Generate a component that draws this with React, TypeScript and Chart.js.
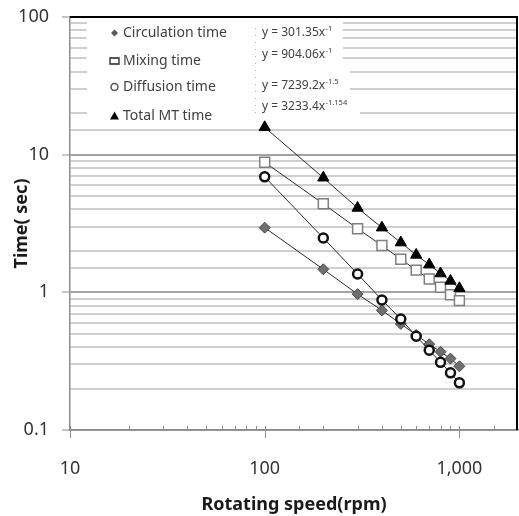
import React, { useEffect, useRef } from 'react';
import { Chart, registerables } from 'chart.js';

Chart.register(...registerables);

// ---- data ----
const rpm = [100, 200, 300, 400, 500, 600, 700, 800, 900, 1000];
const circulationTime = [2.95, 1.47, 0.97, 0.74, 0.59, 0.49, 0.42, 0.37, 0.33, 0.29];
const mixingTime = [8.8, 4.4, 2.9, 2.19, 1.74, 1.45, 1.25, 1.09, 0.96, 0.87];
const diffusionTime = [6.9, 2.48, 1.36, 0.88, 0.64, 0.48, 0.38, 0.31, 0.26, 0.22];
const totalTime = [15.8, 6.8, 4.1, 2.95, 2.3, 1.87, 1.59, 1.37, 1.21, 1.07];

const seriesNames = ['Circulation time', 'Mixing time', 'Diffusion time', 'Total MT time'];
const equationBase = ['y = 301.35x', 'y = 904.06x', 'y = 7239.2x', 'y = 3233.4x'];
const equationExp = ['-1', '-1', '-1.5', '-1.154'];

const xTickValues = [10, 100, 1000];
const xTickLabels = ['10', '100', '1,000'];
const yTickValues = [0.1, 1, 10, 100];
const yTickLabels = ['0.1', '1', '10', '100'];

const xTitle = 'Rotating speed(rpm)';
const yTitle = 'Time( sec)';

const FONT = "'Noto Sans', 'DejaVu Sans', sans-serif";

function findLabel(v: number, values: number[], labels: string[]): string {
  for (let i = 0; i < values.length; i++) {
    if (Math.abs(Math.log10(v) - Math.log10(values[i])) < 1e-6) return labels[i];
  }
  return '';
}
const isMajorY = (v: number) => findLabel(v, yTickValues, yTickLabels) !== '';
const isMajorX = (v: number) => findLabel(v, xTickValues, xTickLabels) !== '';

const toPoints = (ys: number[]) => rpm.map((x, i) => ({ x, y: ys[i] }));

const decorPlugin = {
  id: 'decor',
  beforeDatasetsDraw(chart: any) {
    const ctx = chart.ctx;
    ctx.save();
    // white legend / equation boxes that hide gridlines
    ctx.fillStyle = '#ffffff';
    ctx.fillRect(87, 18, 343 - 87, 65 - 18);
    ctx.fillRect(87, 65, 350 - 87, 100 - 65);
    ctx.fillRect(87, 100, 360 - 87, 124 - 100);

    // dotted text-box edge
    ctx.strokeStyle = '#b0b0b0';
    ctx.lineWidth = 1;
    ctx.setLineDash([1, 6]);
    ctx.beginPath();
    ctx.moveTo(255.5, 28);
    ctx.lineTo(255.5, 114);
    ctx.stroke();
    ctx.setLineDash([]);

    // legend
    const rows = [33, 61, 87, 116];
    const mx = 114.5;
    ctx.font = `14px ${FONT}`;
    ctx.textBaseline = 'middle';
    ctx.textAlign = 'left';
    seriesNames.forEach((name, i) => {
      ctx.fillStyle = '#404040';
      ctx.fillText(name, 123, rows[i]);
    });
    // diamond
    ctx.fillStyle = '#5a5a5a';
    ctx.beginPath();
    ctx.moveTo(mx, rows[0] - 3.5);
    ctx.lineTo(mx + 3.5, rows[0]);
    ctx.lineTo(mx, rows[0] + 3.5);
    ctx.lineTo(mx - 3.5, rows[0]);
    ctx.closePath();
    ctx.fill();
    // square
    ctx.strokeStyle = '#222';
    ctx.lineWidth = 1.3;
    ctx.fillStyle = '#fff';
    ctx.beginPath();
    ctx.rect(mx - 4.5, rows[1] - 3, 9, 6);
    ctx.fill();
    ctx.stroke();
    // circle
    ctx.strokeStyle = '#555';
    ctx.lineWidth = 1.5;
    ctx.beginPath();
    ctx.arc(mx, rows[2], 3.5, 0, Math.PI * 2);
    ctx.stroke();
    // triangle
    ctx.fillStyle = '#000';
    ctx.beginPath();
    ctx.moveTo(mx, rows[3] - 4.5);
    ctx.lineTo(mx + 4.5, rows[3] + 3.5);
    ctx.lineTo(mx - 4.5, rows[3] + 3.5);
    ctx.closePath();
    ctx.fill();

    // equations
    const eqRows = [33, 55, 86, 107];
    equationBase.forEach((t, i) => {
      ctx.font = `12px ${FONT}`;
      ctx.fillStyle = '#404040';
      ctx.textBaseline = 'middle';
      ctx.fillText(t, 262, eqRows[i]);
      const w = ctx.measureText(t).width;
      ctx.font = `7.5px ${FONT}`;
      ctx.fillText(equationExp[i], 262 + w + 0.5, eqRows[i] - 4.5);
    });
    ctx.restore();
  },
  afterDraw(chart: any) {
    const ctx = chart.ctx;
    const area = chart.chartArea;
    const xs = chart.scales.x;
    const ys = chart.scales.y;
    ctx.save();
    ctx.strokeStyle = '#8c8c8c';
    ctx.lineWidth = 1;
    // x-axis tick marks
    xs.ticks.forEach((t: any) => {
      const px = Math.round(xs.getPixelForValue(t.value)) + 0.5;
      if (px > area.right - 1) return;
      ctx.beginPath();
      if (isMajorX(t.value)) {
        ctx.moveTo(px, area.bottom - 4);
        ctx.lineTo(px, area.bottom + 8);
      } else {
        ctx.moveTo(px, area.bottom - 4);
        ctx.lineTo(px, area.bottom);
      }
      ctx.stroke();
    });
    // y-axis major tick marks
    ys.ticks.forEach((t: any) => {
      if (!isMajorY(t.value)) return;
      const py = Math.round(ys.getPixelForValue(t.value));
      ctx.beginPath();
      ctx.moveTo(area.left - 8, py);
      ctx.lineTo(area.left, py);
      ctx.stroke();
    });
    // top and right plot border
    ctx.strokeStyle = '#000';
    ctx.lineWidth = 2;
    ctx.beginPath();
    ctx.moveTo(area.left, area.top);
    ctx.lineTo(area.right - 1, area.top);
    ctx.lineTo(area.right - 1, area.bottom);
    ctx.stroke();
    ctx.restore();
  },
};

export default function App() {
  const ref = useRef<HTMLCanvasElement | null>(null);

  useEffect(() => {
    if (!ref.current) return;
    Chart.defaults.font.family = FONT;
    const chart = new Chart(ref.current, {
      type: 'scatter',
      data: {
        datasets: [
          {
            label: seriesNames[0],
            data: toPoints(circulationTime),
            showLine: true,
            borderColor: '#2a2a2a',
            borderWidth: 1,
            pointStyle: 'rectRot',
            pointRadius: 5.5,
            pointBackgroundColor: '#6e6e6e',
            pointBorderColor: '#4a4a4a',
            pointBorderWidth: 1,
            order: 3,
          },
          {
            label: seriesNames[1],
            data: toPoints(mixingTime),
            showLine: true,
            borderColor: '#2a2a2a',
            borderWidth: 1,
            pointStyle: 'rect',
            pointRadius: 7,
            pointBackgroundColor: '#ffffff',
            pointBorderColor: '#7f7f7f',
            pointBorderWidth: 1.5,
            order: 2,
          },
          {
            label: seriesNames[2],
            data: toPoints(diffusionTime),
            showLine: true,
            borderColor: '#2a2a2a',
            borderWidth: 1,
            pointStyle: 'circle',
            pointRadius: 4.5,
            pointBackgroundColor: '#ffffff',
            pointBorderColor: '#111111',
            pointBorderWidth: 2.5,
            order: 0,
          },
          {
            label: seriesNames[3],
            data: toPoints(totalTime),
            showLine: true,
            borderColor: '#2a2a2a',
            borderWidth: 1,
            pointStyle: 'triangle',
            pointRadius: 6.5,
            pointBackgroundColor: '#000000',
            pointBorderColor: '#000000',
            pointBorderWidth: 1,
            order: 1,
          },
        ],
      },
      options: {
        responsive: false,
        animation: false,
        events: [],
        layout: { autoPadding: false, padding: { top: 17, right: 1, left: 0, bottom: 0 } },
        plugins: {
          legend: { display: false },
          tooltip: { enabled: false },
        },
        scales: {
          x: {
            type: 'logarithmic',
            min: 10,
            max: 2000,
            afterFit: (s: any) => { s.height = 86; },
            grid: { display: false, drawTicks: true, tickLength: 28 },
            border: { display: true, color: '#8c8c8c', width: 1.5 },
            ticks: {
              autoSkip: false,
              maxRotation: 0,
              padding: 0,
              color: '#333333',
              font: { size: 18 },
              callback: (v: any) => findLabel(Number(v), xTickValues, xTickLabels),
            },
            title: {
              display: true,
              text: xTitle,
              color: '#1a1a1a',
              font: { size: 18, weight: 'bold' },
              padding: { top: 0, bottom: 0 },
            },
          },
          y: {
            type: 'logarithmic',
            min: 0.1,
            max: 100,
            afterFit: (s: any) => { s.width = 70; },
            grid: {
              color: (c: any) => (c.tick && isMajorY(c.tick.value) ? '#a3a3a3' : '#cfcfcf'),
              lineWidth: 2,
              tickColor: 'rgba(0,0,0,0)',
              tickLength: 21,
              tickWidth: 1,
            },
            border: { display: true, color: '#8c8c8c', width: 1.5 },
            ticks: {
              autoSkip: false,
              padding: 0,
              color: '#333333',
              font: { size: 18 },
              callback: (v: any) => findLabel(Number(v), yTickValues, yTickLabels),
            },
            title: {
              display: true,
              text: yTitle,
              color: '#1a1a1a',
              font: { size: 18, weight: 'bold' },
              padding: { top: 11, bottom: 0 },
            },
          },
        },
      },
      plugins: [decorPlugin],
    } as any);
    return () => chart.destroy();
  }, []);

  return (
    <div style={{ position: 'absolute', left: 0, top: 0, width: 519, height: 516, background: '#fff' }}>
      <canvas ref={ref} width={519} height={516} style={{ display: 'block', width: 519, height: 516 }} />
    </div>
  );
}
